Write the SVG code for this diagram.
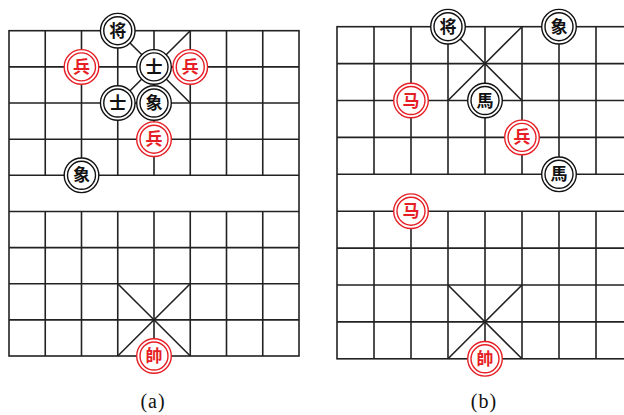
<svg xmlns="http://www.w3.org/2000/svg" width="624" height="415" viewBox="0 0 624 415">
<defs>
<style>
.g{fill:none;stroke:#222;stroke-width:1.6}
.pb circle{fill:#fff;stroke:#111;stroke-width:1.4}
.pr circle{fill:#fff;stroke:#e61e25;stroke-width:1.4}
.pb text,.pr text{font-family:"Noto Sans CJK SC","Noto Sans CJK TC",sans-serif;font-size:17px;font-weight:bold;text-anchor:middle}
.pb text{fill:#111}
.pr text{fill:#e61e25}
.cap{font-family:"Liberation Serif",serif;font-size:20px;letter-spacing:1px;text-anchor:middle;fill:#111}
</style>
</defs>
<rect width="624" height="415" fill="#fff"/>
<g id="connectors">
<g id="board-a-grid">
<rect class="g" x="9" y="30.7" width="290" height="325.3"/>
<path class="g" d="M9 66.9H299M9 103H299M9 139.2H299M9 175.3H299M9 211.5H299M9 247.6H299M9 283.8H299M9 319.9H299"/>
<path class="g" d="M45.25 30.7V175.3M81.5 30.7V175.3M117.75 30.7V175.3M154 30.7V175.3M190.25 30.7V175.3M226.5 30.7V175.3M262.75 30.7V175.3"/>
<path class="g" d="M45.25 211.5V356M81.5 211.5V356M117.75 211.5V356M154 211.5V356M190.25 211.5V356M226.5 211.5V356M262.75 211.5V356"/>
<path class="g" d="M117.75 30.7L190.25 103M190.25 30.7L117.75 103M117.75 283.8L190.25 356M190.25 283.8L117.75 356"/>
</g>
<g id="board-b-grid">
<rect class="g" x="337" y="26.7" width="296" height="332.1"/>
<path class="g" d="M337 63.6H633M337 100.5H633M337 137.4H633M337 174.3H633M337 211.2H633M337 248.1H633M337 285H633M337 321.9H633"/>
<path class="g" d="M374 26.7V174.3M411 26.7V174.3M448 26.7V174.3M485 26.7V174.3M522 26.7V174.3M559 26.7V174.3M596 26.7V174.3"/>
<path class="g" d="M374 211.2V358.8M411 211.2V358.8M448 211.2V358.8M485 211.2V358.8M522 211.2V358.8M559 211.2V358.8M596 211.2V358.8"/>
<path class="g" d="M448 26.7L522 100.5M522 26.7L448 100.5M448 285L522 358.8M522 285L448 358.8"/>
</g>
</g>
<g id="a-jiang" class="pb" transform="translate(117.75 30.7)"><circle r="17.3"/><circle r="14"/><text y="6">将</text></g>
<g id="a-bing1" class="pr" transform="translate(81.5 66.9)"><circle r="17.3"/><circle r="14"/><text y="6">兵</text></g>
<g id="a-shi1" class="pb" transform="translate(154 66.9)"><circle r="17.3"/><circle r="14"/><text y="6">士</text></g>
<g id="a-bing2" class="pr" transform="translate(190.25 66.9)"><circle r="17.3"/><circle r="14"/><text y="6">兵</text></g>
<g id="a-shi2" class="pb" transform="translate(117.75 103)"><circle r="17.3"/><circle r="14"/><text y="6">士</text></g>
<g id="a-xiang1" class="pb" transform="translate(154 103)"><circle r="17.3"/><circle r="14"/><text y="6">象</text></g>
<g id="a-bing3" class="pr" transform="translate(154 139.2)"><circle r="17.3"/><circle r="14"/><text y="6">兵</text></g>
<g id="a-xiang2" class="pb" transform="translate(81.5 175.3)"><circle r="17.3"/><circle r="14"/><text y="6">象</text></g>
<g id="a-shuai" class="pr" transform="translate(154 356)"><circle r="17.3"/><circle r="14"/><text y="6">帥</text></g>
<g id="b-jiang" class="pb" transform="translate(448 26.7)"><circle r="17.3"/><circle r="14"/><text y="6">将</text></g>
<g id="b-xiang" class="pb" transform="translate(559 26.7)"><circle r="17.3"/><circle r="14"/><text y="6">象</text></g>
<g id="b-ma1" class="pr" transform="translate(411 100.5)"><circle r="17.3"/><circle r="14"/><text y="6">马</text></g>
<g id="b-ma2" class="pb" transform="translate(485 100.5)"><circle r="17.3"/><circle r="14"/><text y="6">馬</text></g>
<g id="b-bing" class="pr" transform="translate(522 137.4)"><circle r="17.3"/><circle r="14"/><text y="6">兵</text></g>
<g id="b-ma3" class="pb" transform="translate(559 174.3)"><circle r="17.3"/><circle r="14"/><text y="6">馬</text></g>
<g id="b-ma4" class="pr" transform="translate(411 211.2)"><circle r="17.3"/><circle r="14"/><text y="6">马</text></g>
<g id="b-shuai" class="pr" transform="translate(485 358.8)"><circle r="17.3"/><circle r="14"/><text y="6">帥</text></g>
<text class="cap" x="153" y="408">(a)</text>
<text class="cap" x="484" y="408">(b)</text>
</svg>
